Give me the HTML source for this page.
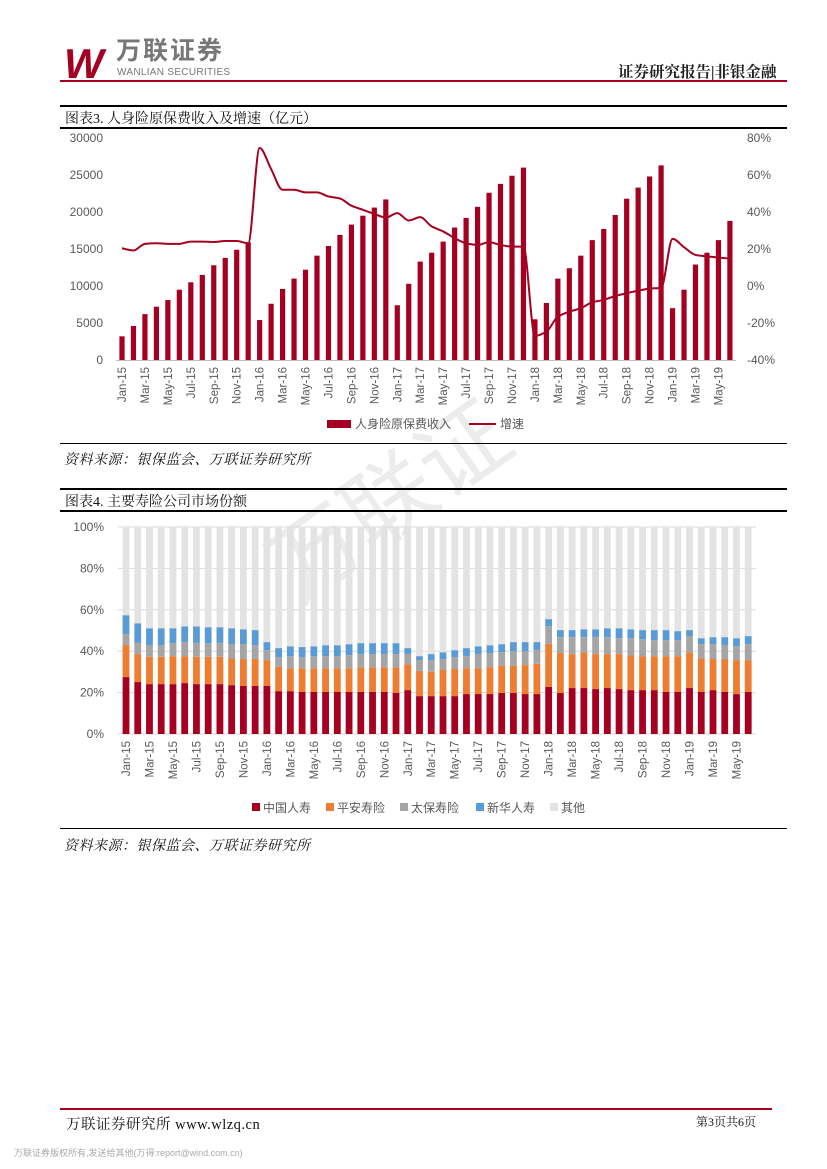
<!DOCTYPE html>
<html><head><meta charset="utf-8">
<style>
body{margin:0;width:827px;height:1169px;position:relative;background:#fff;font-family:"Liberation Sans","Noto Sans CJK SC",sans-serif;overflow:hidden}
.abs{position:absolute;white-space:nowrap}
.hl{position:absolute;left:60px;width:727px;background:#000}
.serif{font-family:"Liberation Serif","Noto Serif CJK SC",serif}
</style></head><body>
<div class="abs" style="left:64px;top:40px;font-size:42px;font-weight:bold;font-style:italic;color:#A50021;letter-spacing:-8px">W</div>
<div class="abs" style="left:116px;top:36px;font-size:25px;font-weight:bold;color:#777;letter-spacing:2px;line-height:30px">万联证券</div>
<div class="abs" style="left:117px;top:67px;font-size:10px;color:#777;letter-spacing:0.3px">WANLIAN SECURITIES</div>
<div class="abs serif" style="left:618px;top:60px;font-size:15.5px;font-weight:bold;color:#222">证券研究报告|非银金融</div>
<div class="abs" style="left:60px;top:80px;width:727px;height:2px;background:#A50021"></div>

<div class="abs" style="left:250px;top:430px;font-size:90px;color:rgba(200,200,200,0.35);transform:rotate(-35deg)">万联证</div>

<div class="hl" style="top:105px;height:2px"></div>
<div class="abs serif" style="left:65px;top:108px;font-size:14px;color:#111">图表3. 人身险原保费收入及增速（亿元）</div>
<div class="hl" style="top:127px;height:2px"></div>
<div class="hl" style="top:443px;height:1px"></div>
<div class="abs serif" style="left:64px;top:449px;font-size:14px;font-style:italic;color:#111;letter-spacing:0.5px">资料来源：银保监会、万联证券研究所</div>

<div class="hl" style="top:488px;height:2px"></div>
<div class="abs serif" style="left:65px;top:491px;font-size:14px;color:#111">图表4. 主要寿险公司市场份额</div>
<div class="hl" style="top:510px;height:2px"></div>
<div class="hl" style="top:828px;height:1px"></div>
<div class="abs serif" style="left:64px;top:835px;font-size:14px;font-style:italic;color:#111;letter-spacing:0.5px">资料来源：银保监会、万联证券研究所</div>

<div class="abs" style="left:60px;top:1108px;width:712px;height:2px;background:#A50021"></div>
<div class="abs serif" style="left:66px;top:1113px;font-size:14.5px;color:#111;letter-spacing:0.5px">万联证券研究所 www.wlzq.cn</div>
<div class="abs serif" style="left:696px;top:1113px;font-size:12px;color:#111">第3页共6页</div>
<div class="abs" style="left:14px;top:1146px;font-size:9px;color:#aaa">万联证券版权所有,发送给其他(万得:report@wind.com.cn)</div>

<svg id="svg" width="827" height="1169" style="position:absolute;left:0;top:0" xmlns="http://www.w3.org/2000/svg"></svg>
<script>
const months=[];
const mn=['Jan','Feb','Mar','Apr','May','Jun','Jul','Aug','Sep','Oct','Nov','Dec'];
for(let y=15;y<=19;y++)for(let m=0;m<12;m++){if(y===19&&m>5)break;months.push(mn[m]+'-'+y);}
const premium=[3.2,4.6,6.2,7.2,8.1,9.5,10.5,11.5,12.8,13.8,14.9,15.9,5.4,7.6,9.6,11.0,12.2,14.1,15.4,16.9,18.3,19.5,20.6,21.7,7.4,10.3,13.3,14.5,16.0,17.9,19.2,20.7,22.6,23.8,24.9,26.0,5.5,7.7,11.0,12.4,14.1,16.2,17.7,19.6,21.8,23.3,24.8,26.3,7.0,9.5,12.9,14.5,16.2,18.8];
const growth=[20.4,19.2,22.8,23.1,22.8,22.8,24,24,23.8,24.3,24.3,23.1,74.6,63.2,52,52,50.6,50.6,48.4,47.3,43.4,41.2,39,37,39.4,35.4,37.2,32.2,29.5,25.9,23.1,22.2,23.7,22.2,21.3,21.3,-27,-24.7,-16.6,-13.9,-12,-8.8,-7.5,-5.4,-3.9,-2.5,-1.4,-1,25.5,21,16.8,16,15.4,14.8];
const leftTicks=['0','5000','10000','15000','20000','25000','30000'];
const rightTicks=['-40%','-20%','0%','20%','40%','60%','80%'];
const chinaLife=[27.5,25.1,24.1,24.1,24.1,24.6,24.1,24.1,24.1,23.6,23.2,23.2,23.2,20.7,20.7,20.3,20.3,20.3,20.3,20.3,20.3,20.3,20.3,19.8,21.2,18.3,18.3,18.3,18.3,19.3,19.3,19.3,19.8,19.8,19.3,19.3,22.7,19.8,22.2,22.2,21.7,22.2,21.7,21.2,21.2,21.2,20.3,20.3,22.2,20.3,21.2,20.3,19.3,20.3];
const pingAnTop=[43,38.4,37.3,37.3,37.6,37.6,37.3,37.3,37.3,36.5,36.2,36.2,35.7,32.5,31.7,31.7,31.7,31.7,31.7,31.7,32.2,32.2,32.2,32.2,33.6,30.5,30.1,30.9,31.4,31.8,31.8,32.3,33,33,33.3,33.9,43.6,39.1,38.6,39.4,38.6,38.6,38.6,37.9,37.6,37.6,37.6,37.6,39.5,36.5,36.2,36.2,35.7,35.7];
const cpicTop=[48.3,44,43,43,43.8,44.5,44.2,43.8,44.2,43.4,43.4,43,40.5,37.1,37.6,37.1,37.6,37.6,37.6,38.1,38.6,38.6,38.6,38.6,38.6,35.7,35.7,36.2,37.1,37.6,38.6,39,39.5,40,40,40.5,52.1,46.8,46.8,46.8,46.8,46.8,46.3,46.3,45.8,45.3,45.3,45.3,47.3,43.4,43.4,43,42.4,43.4];
const nciTop=[57.4,53.5,51.1,51.1,51.1,52,52,51.6,51.6,51.1,50.6,50.2,44.4,41.5,42.4,42,42.4,42.9,42.9,43.4,43.9,43.9,43.9,43.9,41.5,37.6,38.6,39.5,40.5,41.5,42.4,42.9,43.4,44.4,44.4,44.4,55.5,50.2,50.2,50.6,50.6,51.1,51.1,50.6,50.2,50.2,50.2,49.7,50.2,46.3,46.8,46.8,46.3,47.3];
const shareTicks=['0%','20%','40%','60%','80%','100%'];

const svg=document.getElementById('svg');const NS='http://www.w3.org/2000/svg';
function el(tag,attrs,parent){const e=document.createElementNS(NS,tag);for(const k in attrs)e.setAttribute(k,attrs[k]);(parent||svg).appendChild(e);return e;}
function txt(s,attrs){const e=el('text',Object.assign({'font-size':12,fill:'#595959','font-family':'Liberation Sans, Noto Sans CJK SC, sans-serif'},attrs));e.textContent=s;return e;}

// Chart 1
const x1=i=>122+i*11.47, y1=v=>360-v*222/30, yr=p=>360-(p+40)*222/120;
const g1=el('g',{});


leftTicks.forEach((t,i)=>{const e=txt(t,{x:103,y:y1(i*5)+4,'text-anchor':'end'});});
rightTicks.forEach((t,i)=>{const e=txt(t,{x:747,y:yr(-40+i*20)+4});});
premium.forEach((v,i)=>{const r=el('rect',{x:x1(i)-2.6,y:y1(v),width:5.2,height:y1(0)-y1(v),fill:'#A50021'},g1);});
const ax1=el('line',{x1:116,x2:736,y1:360.5,y2:360.5,stroke:'#bfbfbf'},g1);

months.forEach((m,i)=>{if(i%2===0){const e=txt(m,{transform:`translate(${x1(i)+4},367) rotate(-90)`,'text-anchor':'end','font-size':11.5});}});
function monotone(pts){const n=pts.length,d=[],m=[];for(let i=0;i<n-1;i++)d.push((pts[i+1][1]-pts[i][1])/(pts[i+1][0]-pts[i][0]));
 m[0]=d[0];m[n-1]=d[n-2];for(let i=1;i<n-1;i++)m[i]=(d[i-1]*d[i]<=0)?0:2/(1/d[i-1]+1/d[i]);
 let s=`M${pts[0][0]},${pts[0][1]}`;for(let i=0;i<n-1;i++){const h=(pts[i+1][0]-pts[i][0])/3;s+=`C${pts[i][0]+h},${pts[i][1]+m[i]*h} ${pts[i+1][0]-h},${pts[i+1][1]-m[i+1]*h} ${pts[i+1][0]},${pts[i+1][1]}`;}return s;}
const gl=el('path',{d:monotone(growth.map((p,i)=>[x1(i),yr(p)])),fill:'none',stroke:'#A50021','stroke-width':2},g1);

const lg1=el('rect',{x:327,y:420,width:24,height:8,fill:'#A50021'});
txt('人身险原保费收入',{x:355,y:428});
const lg2=el('line',{x1:469,x2:496,y1:424,y2:424,stroke:'#A50021','stroke-width':2});
txt('增速',{x:500,y:428});

// Chart 2
const x2=i=>126+i*11.74, y2=p=>734-p*2.07;
shareTicks.forEach((t,i)=>{const gy=y2(i*20);const l=el('line',{x1:118,x2:756,y1:gy,y2:gy,stroke:'#d9d9d9'});const e=txt(t,{x:104,y:gy+4,'text-anchor':'end'});});
const cols=['#A50021','#ED7D31','#A5A5A5','#5B9BD5','#E3E3E3'];
months.forEach((m,i)=>{const tops=[0,chinaLife[i],pingAnTop[i],cpicTop[i],nciTop[i],100];for(let s=0;s<5;s++){const r=el('rect',{x:x2(i)-3.4,y:y2(tops[s+1]),width:6.8,height:y2(tops[s])-y2(tops[s+1]),fill:cols[s]});}
 if(i%2===0){const e=txt(m,{transform:`translate(${x2(i)+4},741) rotate(-90)`,'text-anchor':'end','font-size':11.5});}});
const names=['中国人寿','平安寿险','太保寿险','新华人寿','其他'];const lx=[252,326,400,476,550];
names.forEach((n,i)=>{const r=el('rect',{x:lx[i],y:803,width:8,height:8,fill:cols[i]});txt(n,{x:lx[i]+11,y:812});});
</script>
</body></html>
